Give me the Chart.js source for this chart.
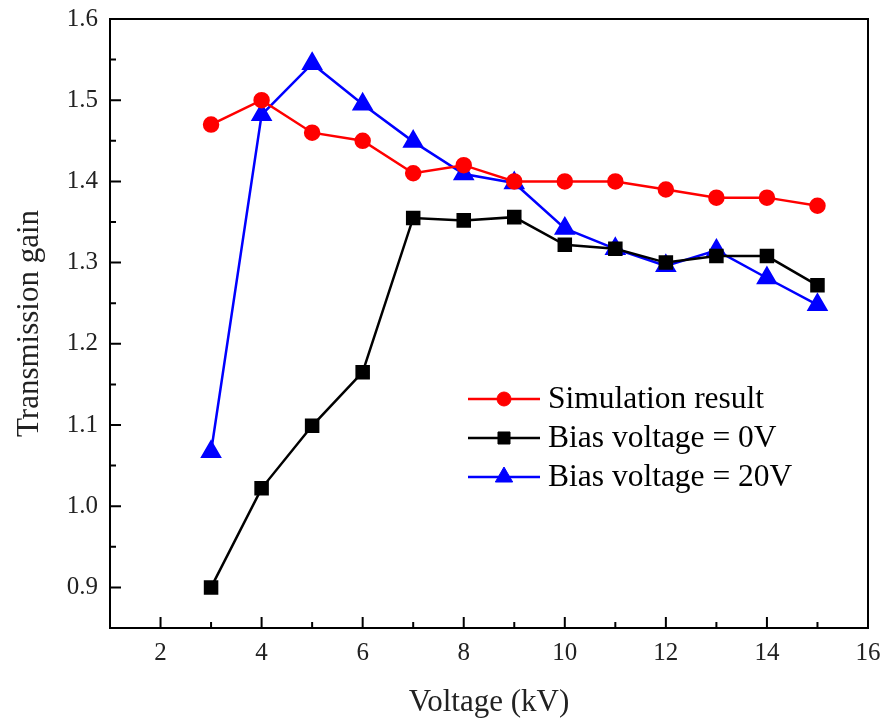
<!DOCTYPE html>
<html>
<head>
<meta charset="utf-8">
<script src="https://cdn.jsdelivr.net/npm/chart.js@4.4.0/dist/chart.umd.min.js"></script>
<style>
  html, body { margin: 0; padding: 0; background: #fff; }
  #wrap { width: 884px; height: 722px; }
</style>
</head>
<body>
<div id="wrap"><canvas id="chart" width="884" height="722"></canvas></div>
<script>
const voltage = [3, 4, 5, 6, 7, 8, 9, 10, 11, 12, 13, 14, 15];
const simulation = [1.47, 1.50, 1.46, 1.45, 1.41, 1.42, 1.40, 1.40, 1.40, 1.39, 1.38, 1.38, 1.37];
const bias0 = [0.900, 1.022, 1.099, 1.165, 1.355, 1.352, 1.356, 1.322, 1.317, 1.300, 1.308, 1.308, 1.272];
const bias20 = [1.067, 1.482, 1.545, 1.495, 1.449, 1.409, 1.398, 1.342, 1.317, 1.296, 1.315, 1.281, 1.248];
const xTicks = [2, 4, 6, 8, 10, 12, 14, 16];
const yTicks = [0.9, 1.0, 1.1, 1.2, 1.3, 1.4, 1.5, 1.6];
const labels = ['Simulation result', 'Bias voltage = 0V', 'Bias voltage = 20V'];

const serif = "'Liberation Serif', 'DejaVu Serif', serif";

function toPoints(ys) {
    return voltage.map((v, i) => ({ x: v, y: ys[i] }));
}

// box + inward ticks
const frame = {
    id: 'frame',
    afterDraw(chart) {
        const ctx = chart.ctx;
        const a = chart.chartArea;
        const xs = chart.scales.x, ys = chart.scales.y;
        ctx.save();
        ctx.strokeStyle = '#000';
        ctx.lineWidth = 2;
        ctx.strokeRect(a.left, a.top, a.right - a.left, a.bottom - a.top);
        ctx.beginPath();
        for (let v = 2; v < 16; v++) {
            const px = xs.getPixelForValue(v);
            const len = v % 2 === 0 ? 11 : 6;
            ctx.moveTo(px, a.bottom);
            ctx.lineTo(px, a.bottom - len);
        }
        for (let k = 0; k < 15; k++) {
            const v = 0.9 + k * 0.05;
            const py = ys.getPixelForValue(v);
            const len = k % 2 === 0 ? 11 : 6;
            ctx.moveTo(a.left, py);
            ctx.lineTo(a.left + len, py);
        }
        ctx.stroke();
        ctx.restore();
    }
};

// legend with line + marker
const lineLegend = {
    id: 'lineLegend',
    afterDraw(chart) {
        const ctx = chart.ctx;
        ctx.save();
        ctx.font = '31.5px ' + serif;
        ctx.textBaseline = 'middle';
        chart.data.datasets.forEach((ds, i) => {
            const y = 399 + i * 39;
            ctx.strokeStyle = ds.borderColor;
            ctx.lineWidth = 2.5;
            ctx.beginPath();
            ctx.moveTo(468, y);
            ctx.lineTo(540, y);
            ctx.stroke();
            ctx.fillStyle = ds.pointBackgroundColor;
            ctx.strokeStyle = ds.pointBorderColor;
            ctx.lineWidth = 1;
            Chart.helpers.drawPoint(ctx, {
                pointStyle: ds.pointStyle,
                radius: ds.pointRadius,
                borderWidth: 1,
                rotation: 0
            }, 504, y);
            ctx.fillStyle = '#000';
            ctx.fillText(labels[i], 548, y + 1);
        });
        ctx.restore();
    }
};

new Chart(document.getElementById('chart').getContext('2d'), {
    type: 'line',
    data: {
        datasets: [{
            label: labels[0],
            data: toPoints(simulation),
            borderColor: '#ff0000',
            backgroundColor: '#ff0000',
            pointBackgroundColor: '#ff0000',
            pointBorderColor: '#ff0000',
            pointStyle: 'circle',
            pointRadius: 7,
            borderWidth: 2.5
        }, {
            label: labels[1],
            data: toPoints(bias0),
            borderColor: '#000000',
            backgroundColor: '#000000',
            pointBackgroundColor: '#000000',
            pointBorderColor: '#000000',
            pointStyle: 'rect',
            pointRadius: 8.5,
            borderWidth: 2.5
        }, {
            label: labels[2],
            data: toPoints(bias20),
            borderColor: '#0000ff',
            backgroundColor: '#0000ff',
            pointBackgroundColor: '#0000ff',
            pointBorderColor: '#0000ff',
            pointStyle: 'triangle',
            pointRadius: 10,
            borderWidth: 2.5
        }]
    },
    options: {
        responsive: false,
        animation: false,
        layout: { padding: { left: 0, top: 19, right: 16, bottom: 0 } },
        elements: { line: { tension: 0 }, point: { borderWidth: 1 } },
        plugins: {
            legend: { display: false },
            tooltip: { enabled: false }
        },
        scales: {
            x: {
                type: 'linear',
                min: 1,
                max: 16,
                afterBuildTicks: s => { s.ticks = xTicks.map(v => ({ value: v })); },
                afterFit: s => {
                    s.height = 94;
                    s.paddingLeft = 0;
                    s.paddingRight = 0;
                },
                grid: { display: false, drawTicks: false },
                border: { display: false },
                ticks: {
                    color: '#222',
                    padding: 10,
                    maxRotation: 0,
                    font: { family: serif, size: 25 },
                    callback: v => String(v)
                },
                title: {
                    display: true,
                    text: 'Voltage (kV)',
                    color: '#222',
                    font: { family: serif, size: 31 },
                    padding: { top: 0, bottom: 1 }
                }
            },
            y: {
                type: 'linear',
                min: 0.85,
                max: 1.6,
                afterBuildTicks: s => { s.ticks = yTicks.map(v => ({ value: v })); },
                afterFit: s => {
                    s.width = 110;
                    s.paddingTop = 0;
                    s.paddingBottom = 0;
                },
                grid: { display: false, drawTicks: false },
                border: { display: false },
                ticks: {
                    color: '#222',
                    padding: 12,
                    font: { family: serif, size: 25 },
                    callback: v => v.toFixed(1)
                },
                title: {
                    display: true,
                    text: 'Transmission gain',
                    color: '#222',
                    font: { family: serif, size: 31 },
                    padding: { top: 11, bottom: 0 }
                }
            }
        }
    },
    plugins: [frame, lineLegend]
});
</script>
</body>
</html>
